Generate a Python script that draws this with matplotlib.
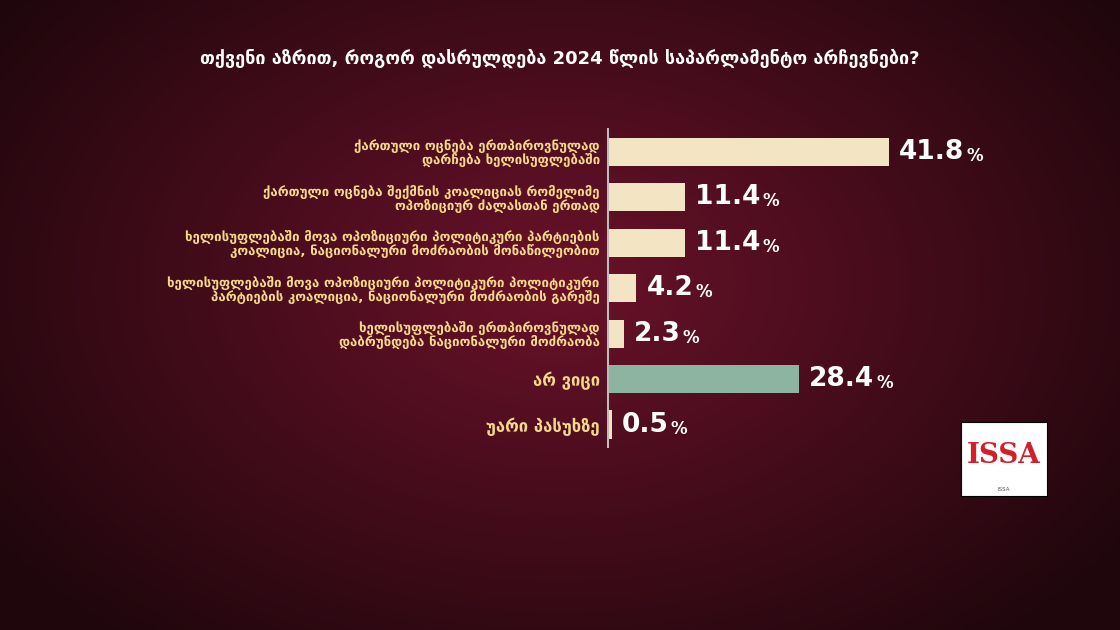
import numpy as np
import matplotlib
matplotlib.use("Agg")
import matplotlib.pyplot as plt

title = "თქვენი აზრით, როგორ დასრულდება 2024 წლის საპარლამენტო არჩევნები?"
categories = [
    "ქართული ოცნება ერთპიროვნულად\nდარჩება ხელისუფლებაში",
    "ქართული ოცნება შექმნის კოალიციას რომელიმე\nოპოზიციურ ძალასთან ერთად",
    "ხელისუფლებაში მოვა ოპოზიციური პოლიტიკური პარტიების\nკოალიცია, ნაციონალური მოძრაობის მონაწილეობით",
    "ხელისუფლებაში მოვა ოპოზიციური პოლიტიკური პოლიტიკური\nპარტიების კოალიცია, ნაციონალური მოძრაობის გარეშე",
    "ხელისუფლებაში ერთპიროვნულად\nდაბრუნდება ნაციონალური მოძრაობა",
    "არ ვიცი",
    "უარი პასუხზე",
]
values = [41.8, 11.4, 11.4, 4.2, 2.3, 28.4, 0.5]
bar_colors = ["#f3e4c4"] * 5 + ["#8db4a0", "#f3e4c4"]

fig = plt.figure(figsize=(11.2, 6.3), dpi=100)
bg = fig.add_axes([0, 0, 1, 1])
yy, xx = np.mgrid[0:1:300j, 0:1:500j]
r = np.sqrt(((xx - 0.5) * 1.2) ** 2 + ((yy - 0.45) * 1.0) ** 2)
c0 = np.array([0x6a, 0x12, 0x2a]) / 255
c1 = np.array([0x1e, 0x06, 0x0c]) / 255
t = np.clip(r / 0.75, 0, 1)[..., None]
img = c0 * (1 - t) + c1 * t
bg.imshow(img, extent=[0, 1, 0, 1], aspect="auto", origin="upper")
bg.axis("off")

fig.text(0.5, 0.908, title, ha="center", va="center", color="white",
         fontsize=13, fontweight="bold", family="DejaVu Sans")

ax = fig.add_axes([0.543, 0.29, 0.36, 0.505])
ax.patch.set_alpha(0)
y = np.arange(len(values))
ax.barh(y, values, color=bar_colors, height=0.62)
ax.set_ylim(len(values) - 0.5, -0.5)
ax.set_xlim(0, 60)
for s in ["top", "right", "bottom"]:
    ax.spines[s].set_visible(False)
ax.spines["left"].set_color("#bbbbbb")
ax.spines["left"].set_linewidth(1.5)
ax.set_xticks([])
ax.set_yticks(y)
ax.set_yticklabels(categories, color="#f5d98a", fontsize=9.5, fontweight="bold",
                   linespacing=1.0)
for lab in ax.get_yticklabels()[5:]:
    lab.set_fontsize(12)
ax.tick_params(axis="y", length=0, pad=6)

fig.canvas.draw()
renderer = fig.canvas.get_renderer()
for yi, v in zip(y, values):
    tx = ax.text(v + 1.5, yi, f"{v}", va="center", ha="left", color="white",
                 fontsize=19, fontweight="bold")
    w = tx.get_window_extent(renderer).width
    ax.annotate("%", (v + 1.5, yi), xytext=(w * 72 / fig.dpi + 1.5, -3),
                textcoords="offset points", va="center", ha="left", color="white",
                fontsize=12, fontweight="bold")

lg = fig.add_axes([0.858, 0.212, 0.077, 0.118])
lg.set_facecolor("white")
lg.set_xticks([]); lg.set_yticks([])
lg.text(0.5, 0.55, "ISSA", ha="center", va="center", color="#d1202a",
        fontsize=20, fontweight="bold", family="DejaVu Serif")
lg.text(0.5, 0.1, "ISSA", ha="center", va="center", color="#555", fontsize=4)

fig.savefig("out.png", dpi=100)
